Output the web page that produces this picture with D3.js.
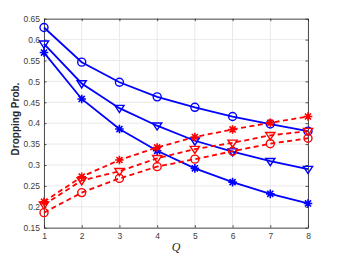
<!DOCTYPE html>
<html><head><meta charset="utf-8">
<script src="https://cdn.jsdelivr.net/npm/d3@7"></script>
<style>body{margin:0;background:#fff}svg{display:block}</style>
</head><body><svg id="c" width="341" height="256"></svg>
<script>
const Q = [1,2,3,4,5,6,7,8];
const blueCircle = [0.629,0.546,0.498,0.463,0.438,0.416,0.398,0.381];
const blueTri    = [0.590,0.495,0.436,0.394,0.358,0.332,0.309,0.290];
const blueStar   = [0.569,0.458,0.386,0.334,0.292,0.259,0.231,0.208];
const redStar    = [0.212,0.272,0.312,0.342,0.367,0.385,0.401,0.416];
const redTri     = [0.205,0.263,0.285,0.316,0.338,0.353,0.371,0.381];
const redCircle  = [0.186,0.234,0.268,0.296,0.314,0.333,0.351,0.364];
const yTicks = [0.15,0.2,0.25,0.3,0.35,0.4,0.45,0.5,0.55,0.6,0.65];
const yTickLabels = ["0.15","0.2","0.25","0.3","0.35","0.4","0.45","0.5","0.55","0.6","0.65"];

const svg = d3.select("#c");
const L=44, R=308, T=18.7, B=227.7;
const x = d3.scaleLinear().domain([1,8]).range([L,R]);
const y = d3.scaleLinear().domain([0.15,0.65]).range([B,T]);

// grid
const g = svg.append("g");
g.selectAll(".gx").data(Q).enter().append("line")
 .attr("x1",d=>x(d)).attr("x2",d=>x(d)).attr("y1",T).attr("y2",B)
 .attr("stroke","#e3e3e3").attr("stroke-width",0.8);
g.selectAll(".gy").data(yTicks).enter().append("line")
 .attr("y1",d=>y(d)).attr("y2",d=>y(d)).attr("x1",L).attr("x2",R)
 .attr("stroke","#e3e3e3").attr("stroke-width",0.8);

// axes
const ax = svg.append("g").attr("transform",`translate(0,${B})`)
 .call(d3.axisBottom(x).tickValues(Q).tickFormat(d3.format("d")).tickSizeInner(-2.5).tickSizeOuter(0).tickPadding(5));
const ay = svg.append("g").attr("transform",`translate(${L},0)`)
 .call(d3.axisLeft(y).tickValues(yTicks).tickFormat((d,i)=>yTickLabels[i]).tickSizeInner(-2.5).tickSizeOuter(0).tickPadding(4));
const axTop = svg.append("g").attr("transform",`translate(0,${T})`)
 .call(d3.axisTop(x).tickValues(Q).tickFormat("").tickSizeInner(-2.5).tickSizeOuter(0));
const ayR = svg.append("g").attr("transform",`translate(${R},0)`)
 .call(d3.axisRight(y).tickValues(yTicks).tickFormat("").tickSizeInner(-2.5).tickSizeOuter(0));
[ax,ay,axTop,ayR].forEach(a=>{
  a.select(".domain").attr("stroke","#262626").attr("stroke-width",0.8);
  a.selectAll(".tick line").attr("stroke","#262626").attr("stroke-width",0.8);
  a.selectAll("text").attr("fill","#404040").attr("font-family","Liberation Sans, Arial, sans-serif").attr("font-size",8.5);
});

const line = d3.line().x((d,i)=>x(Q[i])).y(d=>y(d));
const series = [
 {v:blueCircle,c:"#0000ff",dash:null,m:"circle"},
 {v:blueTri,c:"#0000ff",dash:null,m:"tri"},
 {v:blueStar,c:"#0000ff",dash:null,m:"star"},
 {v:redStar,c:"#ff0000",dash:"5,3.5",m:"star"},
 {v:redTri,c:"#ff0000",dash:"5,3.5",m:"tri"},
 {v:redCircle,c:"#ff0000",dash:"5,3.5",m:"circle"}
];
series.forEach(s=>{
  svg.append("path").attr("d",line(s.v)).attr("fill","none").attr("stroke",s.c)
   .attr("stroke-width",1.8).attr("stroke-dasharray",s.dash);
  const mg = svg.append("g");
  s.v.forEach((v,i)=>{
    const cx=x(Q[i]), cy=y(v);
    if(s.m==="circle"){
      mg.append("circle").attr("cx",cx).attr("cy",cy).attr("r",4).attr("fill","none").attr("stroke",s.c).attr("stroke-width",1.4);
    } else if(s.m==="tri"){
      const r=4.6;
      mg.append("path").attr("d",`M${cx-r},${cy-r*0.6}L${cx+r},${cy-r*0.6}L${cx},${cy+r*0.95}Z`).attr("fill","none").attr("stroke",s.c).attr("stroke-width",1.4);
    } else {
      const r=4.3; let d="";
      [0,45,90,135].forEach(a=>{const t=a*Math.PI/180;
        d+=`M${cx-r*Math.cos(t)},${cy-r*Math.sin(t)}L${cx+r*Math.cos(t)},${cy+r*Math.sin(t)}`;});
      mg.append("path").attr("d",d).attr("stroke",s.c).attr("stroke-width",1.6);
    }
  });
});

svg.append("text").attr("x",176).attr("y",251).attr("text-anchor","middle")
 .attr("font-family","Liberation Serif, Times New Roman, serif").attr("font-style","italic").attr("font-size",12).attr("fill","#262626").text("Q");
svg.append("text").attr("transform","translate(19,119) rotate(-90)").attr("text-anchor","middle")
 .attr("font-family","Liberation Sans, Arial, sans-serif").attr("font-weight","bold").attr("font-size",10).attr("fill","#262626").text("Dropping Prob.");
</script></body></html>
